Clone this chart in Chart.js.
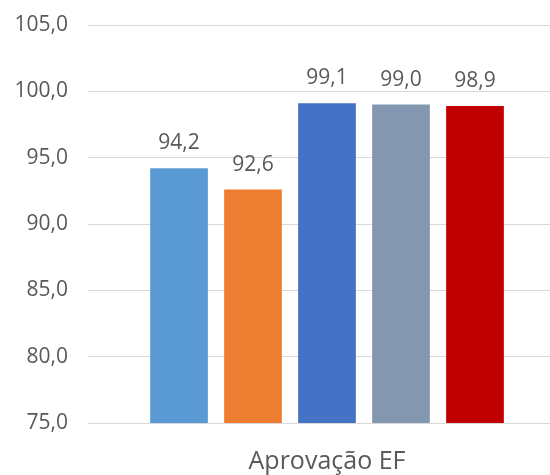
<!DOCTYPE html>
<html>
<head>
<meta charset="utf-8">
<script src="https://cdn.jsdelivr.net/npm/chart.js@4.4.0/dist/chart.umd.min.js"></script>
<style>
  html, body { margin: 0; padding: 0; background: #fff; overflow: hidden; }
  #wrap { width: 572px; height: 475px; }
</style>
</head>
<body>
<div id="wrap"><canvas id="grafico" width="572" height="475"></canvas></div>
<script>
// dados
const categorias = ['Aprovação EF'];
const series = ['Série 1', 'Série 2', 'Série 3', 'Série 4', 'Série 5'];
const valores = [94.2, 92.6, 99.1, 99.0, 98.9];
const cores = ['#5B9BD5', '#ED7D31', '#4472C4', '#8497B0', '#C00000'];
const ticksY = [75, 80, 85, 90, 95, 100, 105];

const fonte = "'Open Sans', sans-serif";
const cinza = '#595959';

function virgula(v) {
    return Number(v).toFixed(1).replace('.', ',');
}

// rótulos de dados acima das barras
const rotulos = {
    id: 'rotulos',
    afterDatasetsDraw(chart) {
        const ctx = chart.ctx;
        ctx.save();
        ctx.font = '21px ' + fonte;
        ctx.fillStyle = cinza;
        ctx.textAlign = 'center';
        ctx.textBaseline = 'alphabetic';
        chart.data.datasets.forEach((ds, i) => {
            const meta = chart.getDatasetMeta(i);
            meta.data.forEach((bar, j) => {
                ctx.fillText(virgula(ds.data[j]), bar.x, bar.y - 19);
            });
        });
        ctx.restore();
    }
};

const datasets = series.map((nome, i) => ({
    label: nome,
    data: [valores[i]],
    backgroundColor: cores[i],
    borderWidth: 0,
    barPercentage: 0.78,
    categoryPercentage: 0.774
}));

new Chart(document.getElementById('grafico'), {
    type: 'bar',
    data: { labels: categorias, datasets: datasets },
    options: {
        responsive: false,
        animation: false,
        layout: { padding: { left: 13, right: 6, top: 25, bottom: 0 } },
        plugins: {
            legend: { display: false },
            tooltip: { enabled: false }
        },
        scales: {
            x: {
                grid: { display: false, drawTicks: false },
                border: { display: false },
                ticks: { color: cinza, font: { family: fonte, size: 25 }, padding: 24 },
                afterFit(axis) {
                    axis.height = 52;
                    axis.paddingLeft = 0;
                    axis.paddingRight = 0;
                }
            },
            y: {
                min: ticksY[0],
                max: ticksY[ticksY.length - 1],
                afterBuildTicks(axis) {
                    axis.ticks = ticksY.map(v => ({ value: v }));
                },
                afterFit(axis) {
                    axis.width = 75;
                    axis.paddingTop = 0;
                    axis.paddingBottom = 0;
                },
                grid: { color: '#D9D9D9', lineWidth: 1, drawTicks: false },
                border: { display: false },
                ticks: {
                    color: cinza,
                    font: { family: fonte, size: 21 },
                    padding: 20,
                    callback: v => virgula(v)
                }
            }
        }
    },
    plugins: [rotulos]
});
</script>
</body>
</html>
